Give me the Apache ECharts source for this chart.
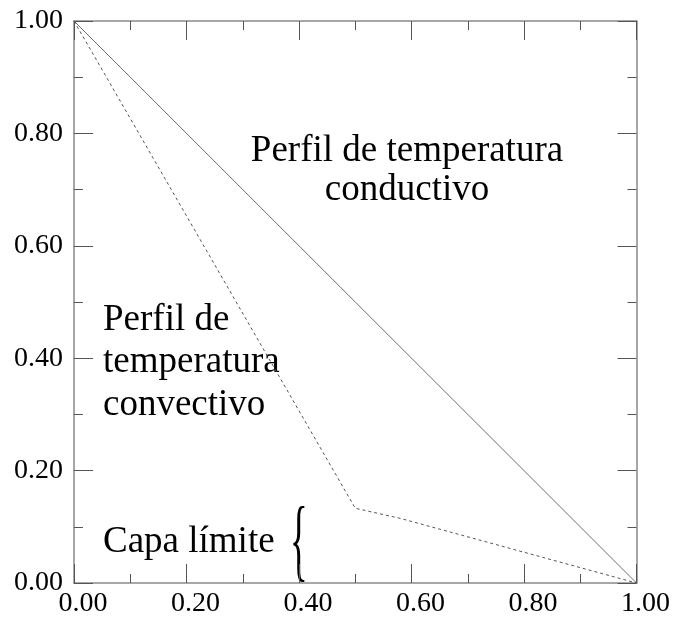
<!DOCTYPE html>
<html>
<head>
<meta charset="utf-8">
<script src="https://cdn.jsdelivr.net/npm/echarts@6/dist/echarts.min.js"></script>
<style>
  html, body { margin: 0; padding: 0; background: #fff; }
  #chart { width: 673px; height: 618px; }
</style>
</head>
<body>
<div id="chart"></div>
<script>
// Conductive temperature profile: straight line from wall to wall
const conductiveX = [0.0, 1.0];
const conductiveY = [1.0, 0.0];

// Convective temperature profile: steep boundary layer, flatter core
const convectiveX = [0.0, 0.5, 0.58, 1.0];
const convectiveY = [1.0, 0.133, 0.115, 0.0];

const tickValues = [0, 0.2, 0.4, 0.6, 0.8, 1.0];

const FONT = 'Liberation Serif';
const ANNOT_FONT = '37px "' + FONT + '"';

function pairs(xs, ys) {
  return xs.map((x, i) => [x, ys[i]]);
}

const axisLineStyle = { color: '#8a8a8a', width: 1.5 };
const tickStyle = { color: '#555', width: 1 };

function labelStyle(extra) {
  return Object.assign({
    show: true,
    formatter: v => v.toFixed(2),
    fontFamily: FONT,
    fontSize: 28,
    color: '#000'
  }, extra || {});
}

function makeAxis(pos, label) {
  return {
    type: 'value',
    position: pos,
    min: tickValues[0],
    max: tickValues[tickValues.length - 1],
    interval: 0.2,
    axisLine: { show: true, onZero: false, lineStyle: axisLineStyle },
    axisTick: { show: true, inside: true, length: 19, lineStyle: tickStyle },
    minorTick: { show: true, splitNumber: 2, length: 9, lineStyle: tickStyle },
    splitLine: { show: false },
    axisLabel: label || { show: false }
  };
}

function annot(text, x, y, align) {
  return {
    type: 'text',
    x: x, y: y,
    style: {
      text: text,
      font: ANNOT_FONT,
      align: align,
      verticalAlign: 'middle',
      fill: '#000'
    }
  };
}

const chart = echarts.init(document.getElementById('chart'));

chart.setOption({
  animation: false,
  backgroundColor: '#fff',
  grid: { left: 74, top: 21, right: 36, bottom: 35 },
  xAxis: [
    makeAxis('bottom', labelStyle({ margin: 7, padding: [0, 0, 0, 18] })),
    makeAxis('top')
  ],
  yAxis: [
    makeAxis('left', labelStyle({ margin: 11 })),
    makeAxis('right')
  ],
  series: [
    {
      type: 'line',
      data: pairs(conductiveX, conductiveY),
      symbol: 'none',
      lineStyle: { color: '#6e6e6e', width: 1 }
    },
    {
      type: 'line',
      data: pairs(convectiveX, convectiveY),
      symbol: 'none',
      lineStyle: { color: '#555', width: 1, type: [3, 3] }
    }
  ],
  graphic: [
    annot('Perfil de temperatura', 407, 151, 'center'),
    annot('conductivo', 407, 190, 'center'),
    annot('Perfil de', 103, 320, 'left'),
    annot('temperatura', 103, 362, 'left'),
    annot('convectivo', 103, 405, 'left'),
    annot('Capa límite', 103, 542, 'left'),
    {
      type: 'text',
      x: 290, y: 500,
      scaleX: 0.4,
      style: {
        text: '{',
        font: '92px "' + FONT + '"',
        fill: '#000'
      }
    }
  ]
});
</script>
</body>
</html>
